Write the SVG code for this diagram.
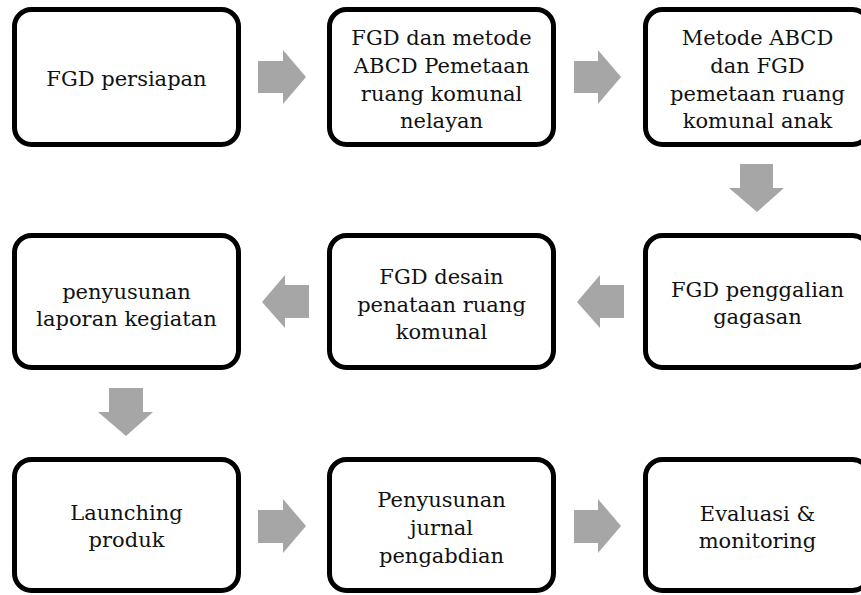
<svg xmlns="http://www.w3.org/2000/svg" width="861" height="595" viewBox="0 0 861 595">
<style>
.box{fill:#fff;stroke:#000;stroke-width:5}
.arr{fill:#a6a6a6}
text{font-family:"DejaVu Serif","Liberation Serif",serif;font-size:21px;fill:#111;text-anchor:middle}
</style>
<rect width="861" height="595" fill="#fff"/>
<g id="connectors">
<polygon class="arr" points="258,61 283,61 283,50 306,77 283,104 283,93 258,93"/>
<polygon class="arr" points="574,61 598,61 598,50 621,77 598,104 598,93 574,93"/>
<polygon class="arr" points="740,164 773,164 773,188 784,188 757,212 729,188 740,188"/>
<polygon class="arr" points="624,285 600,285 600,275 577,302 600,328 600,318 624,318"/>
<polygon class="arr" points="309,285 285,285 285,275 262,302 285,328 285,318 309,318"/>
<polygon class="arr" points="109,388 143,388 143,412 153,412 126,436 98,412 109,412"/>
<polygon class="arr" points="258,510 283,510 283,499 306,526 283,553 283,543 258,543"/>
<polygon class="arr" points="574,510 598,510 598,499 621,526 598,553 598,543 574,543"/>
</g>
<g id="n1"><rect class="box" x="14.5" y="9.5" width="224" height="135" rx="17"/><text x="126.5" y="86">FGD persiapan</text></g>
<g id="n2"><rect class="box" x="329.5" y="9.5" width="224" height="135" rx="17"/><text x="441.5" y="45">FGD dan metode</text><text x="441.5" y="73">ABCD Pemetaan</text><text x="441.5" y="101">ruang komunal</text><text x="441.5" y="128">nelayan</text></g>
<g id="n3"><rect class="box" x="645.5" y="9.5" width="224" height="135" rx="17"/><text x="757.5" y="45">Metode ABCD</text><text x="757.5" y="73">dan FGD</text><text x="757.5" y="101">pemetaan ruang</text><text x="757.5" y="128">komunal anak</text></g>
<g id="n6"><rect class="box" x="645.5" y="235.5" width="224" height="132" rx="17"/><text x="757.5" y="297">FGD penggalian</text><text x="757.5" y="324">gagasan</text></g>
<g id="n5"><rect class="box" x="329.5" y="235.5" width="224" height="132" rx="17"/><text x="441.5" y="284">FGD desain</text><text x="441.5" y="312">penataan ruang</text><text x="441.5" y="339">komunal</text></g>
<g id="n4"><rect class="box" x="14.5" y="235.5" width="224" height="132" rx="17"/><text x="126.5" y="299">penyusunan</text><text x="126.5" y="326">laporan kegiatan</text></g>
<g id="n7"><rect class="box" x="14.5" y="459.5" width="224" height="131" rx="17"/><text x="126.5" y="520">Launching</text><text x="126.5" y="547">produk</text></g>
<g id="n8"><rect class="box" x="329.5" y="459.5" width="224" height="131" rx="17"/><text x="441.5" y="507">Penyusunan</text><text x="441.5" y="535">jurnal</text><text x="441.5" y="563">pengabdian</text></g>
<g id="n9"><rect class="box" x="645.5" y="459.5" width="224" height="131" rx="17"/><text x="757.5" y="521">Evaluasi &amp;</text><text x="757.5" y="548">monitoring</text></g>
</svg>
